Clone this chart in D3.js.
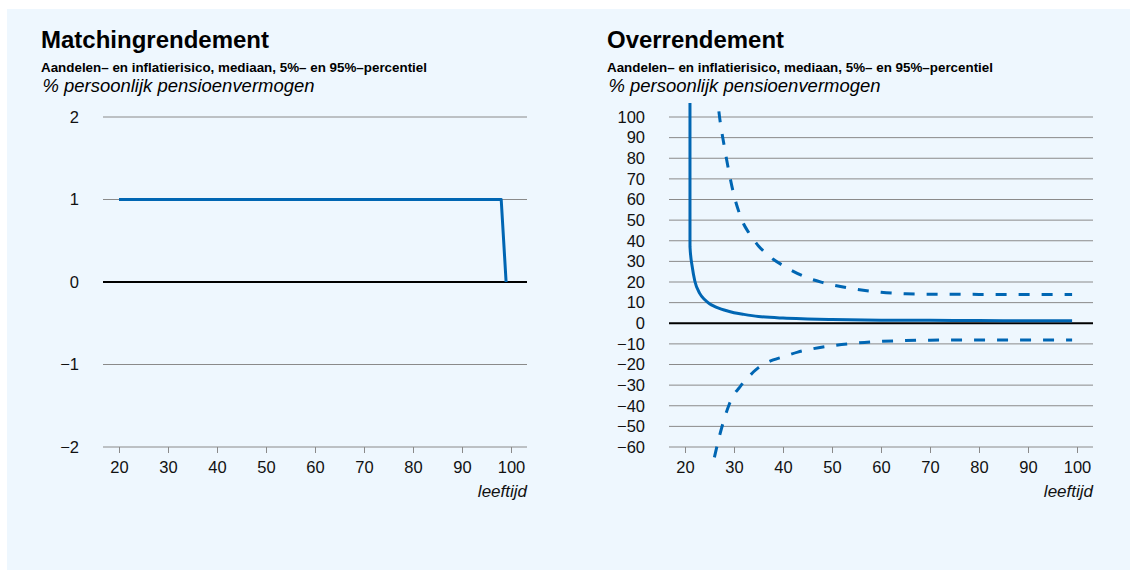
<!DOCTYPE html>
<html>
<head>
<meta charset="utf-8">
<script src="https://cdn.jsdelivr.net/npm/d3@7"></script>
<style>
  html, body { margin: 0; padding: 0; background: #ffffff; }
  svg { display: block; font-family: "Liberation Sans", Arial, Helvetica, sans-serif; }
</style>
</head>
<body>
<svg id="chart" width="1130" height="570"></svg>
<script>
// ---- data ----------------------------------------------------------------
const subtitle = "Aandelen\u2013 en inflatierisico, mediaan, 5%\u2013 en 95%\u2013percentiel";
const unitLabel = "% persoonlijk pensioenvermogen";
const xAxisLabel = "leeftijd";

const xTicks = [20, 30, 40, 50, 60, 70, 80, 90, 100];

// Left panel: matching return (median), % of personal pension wealth
const matchTitle = "Matchingrendement";
const matchYTicks = [-2, -1, 0, 1, 2];
const matchAges = [20, 25, 30, 35, 40, 45, 50, 55, 60, 65, 70, 75, 80, 85, 90, 95, 98, 99];
const matchMedian = [1, 1, 1, 1, 1, 1, 1, 1, 1, 1, 1, 1, 1, 1, 1, 1, 1, 0];

// Right panel: excess return, median and 5% / 95% percentiles
const overTitle = "Overrendement";
const overYTicks = [-60, -50, -40, -30, -20, -10, 0, 10, 20, 30, 40, 50, 60, 70, 80, 90, 100];
const overMedianAges = [21, 21.02, 21.5, 22, 23, 24, 25, 26, 27, 28, 30, 32, 35, 40, 45, 50, 60, 70, 80, 90, 99];
const overMedian = [300, 37, 27, 20.5, 14.5, 11.5, 9.5, 8.2, 7.2, 6.4, 5.1, 4.3, 3.3, 2.5, 2.1, 1.8, 1.5, 1.4, 1.3, 1.25, 1.2];
const overP95Ages = [26, 27, 28, 29, 30, 31, 32, 33, 34, 35, 36, 38, 40, 42, 45, 48, 52, 56, 60, 65, 70, 80, 90, 99];
const overP95 = [125, 101, 86, 73, 62, 54, 48, 44, 40.5, 37.5, 35, 31, 28, 25.3, 22, 19.8, 17.7, 16.1, 15, 14.3, 14.1, 14, 14, 14];
const overP5Ages = [26, 27, 28, 29, 30, 31, 32, 33, 34, 35, 36, 38, 40, 43, 46, 50, 55, 60, 65, 70, 80, 90, 99];
const overP5 = [-65, -55, -46.5, -39.5, -34.5, -31.5, -28.5, -26, -23.5, -21.5, -20, -17.8, -16.3, -14, -12.4, -10.9, -9.6, -8.8, -8.4, -8.2, -8.1, -8.1, -8.1];

// ---- styling ---------------------------------------------------------------
const BLUE = "#0066b3";
const GRID = "#8a8a8a";
const svg = d3.select("#chart");

svg.append("rect")
  .attr("x", 7).attr("y", 9)
  .attr("width", 1123).attr("height", 561)
  .attr("fill", "#eef7fe");

function panel(opts) {
  const g = svg.append("g").attr("transform", `translate(${opts.left},0)`);

  // titles (widened to the house typeface's set width)
  g.append("text").attr("x", 0).attr("y", 48)
    .attr("font-size", 23).attr("font-weight", "bold").attr("fill", "#000")
    .attr("textLength", opts.titleWidth).attr("lengthAdjust", "spacingAndGlyphs")
    .text(opts.title);
  g.append("text").attr("x", 0).attr("y", 71.5)
    .attr("font-size", 12.2).attr("font-weight", "bold").attr("fill", "#000")
    .attr("textLength", 386).attr("lengthAdjust", "spacingAndGlyphs")
    .text(subtitle);
  g.append("text").attr("x", 1.5).attr("y", 92)
    .attr("font-size", 18).attr("font-style", "italic").attr("fill", "#000")
    .attr("textLength", 272).attr("lengthAdjust", "spacingAndGlyphs")
    .text(unitLabel);

  const x = d3.scaleLinear().domain([20, 100]).range([78, 470]);
  const y = d3.scaleLinear().domain(opts.yDomain).range([447, 117]);
  const gridX0 = 62, gridX1 = 486;

  // horizontal grid lines
  g.append("g").selectAll("line")
    .data(opts.yTicks.filter(v => v !== 0))
    .join("line")
    .attr("x1", gridX0).attr("x2", gridX1)
    .attr("y1", d => y(d)).attr("y2", d => y(d))
    .attr("stroke", GRID).attr("stroke-width", 1);

  // y-axis labels
  const yAxis = d3.axisLeft(y)
    .tickValues(opts.yTicks)
    .tickSize(0).tickPadding(0)
    .tickFormat(d => d < 0 ? "\u2212" + Math.abs(d) : String(d));
  const ya = g.append("g").attr("transform", `translate(${gridX0 - 24},0)`).call(yAxis);
  ya.select(".domain").remove();
  ya.selectAll("text").attr("font-size", 16.5).attr("fill", "#111")
    .attr("font-family", "Liberation Sans, Arial, sans-serif");

  // x-axis ticks and labels along the bottom grid line
  const xAxis = d3.axisBottom(x).tickValues(xTicks).tickSize(6).tickPadding(8);
  const xa = g.append("g").attr("transform", `translate(0,${y(opts.yDomain[0])})`).call(xAxis);
  xa.select(".domain").remove();
  xa.selectAll(".tick line").attr("stroke", GRID);
  xa.selectAll("text").attr("font-size", 16.5).attr("fill", "#111")
    .attr("font-family", "Liberation Sans, Arial, sans-serif");

  g.append("text").attr("x", gridX1).attr("y", 497)
    .attr("text-anchor", "end").attr("font-size", 17).attr("font-style", "italic")
    .attr("fill", "#111").text(xAxisLabel);

  // clip region for the series
  const clipId = "clip-" + opts.left;
  g.append("clipPath").attr("id", clipId)
    .append("rect").attr("x", gridX0).attr("y", 103)
    .attr("width", gridX1 - gridX0).attr("height", 357);

  const series = g.append("g").attr("clip-path", `url(#${clipId})`);

  // zero line
  g.append("line")
    .attr("x1", gridX0).attr("x2", gridX1)
    .attr("y1", y(0)).attr("y2", y(0))
    .attr("stroke", "#000").attr("stroke-width", 2);

  opts.series.forEach(s => {
    const line = d3.line()
      .x((d, i) => x(s.ages[i]))
      .y(d => y(d))
      .curve(s.curve || d3.curveLinear);
    series.append("path")
      .datum(s.values)
      .attr("d", line)
      .attr("fill", "none")
      .attr("stroke", BLUE)
      .attr("stroke-width", 3)
      .attr("stroke-linejoin", "round")
      .attr("stroke-dasharray", s.dashed ? "11,12" : null);
  });
  // keep series above the zero line
  series.raise();
}

panel({
  left: 41,
  title: matchTitle,
  titleWidth: 228,
  yDomain: [-2, 2],
  yTicks: matchYTicks,
  series: [{ ages: matchAges, values: matchMedian }]
});

panel({
  left: 607,
  title: overTitle,
  titleWidth: 177,
  yDomain: [-60, 100],
  yTicks: overYTicks,
  series: [
    { ages: overMedianAges, values: overMedian, curve: d3.curveMonotoneX },
    { ages: overP95Ages, values: overP95, curve: d3.curveMonotoneX, dashed: true },
    { ages: overP5Ages, values: overP5, curve: d3.curveMonotoneX, dashed: true }
  ]
});
</script>
</body>
</html>
